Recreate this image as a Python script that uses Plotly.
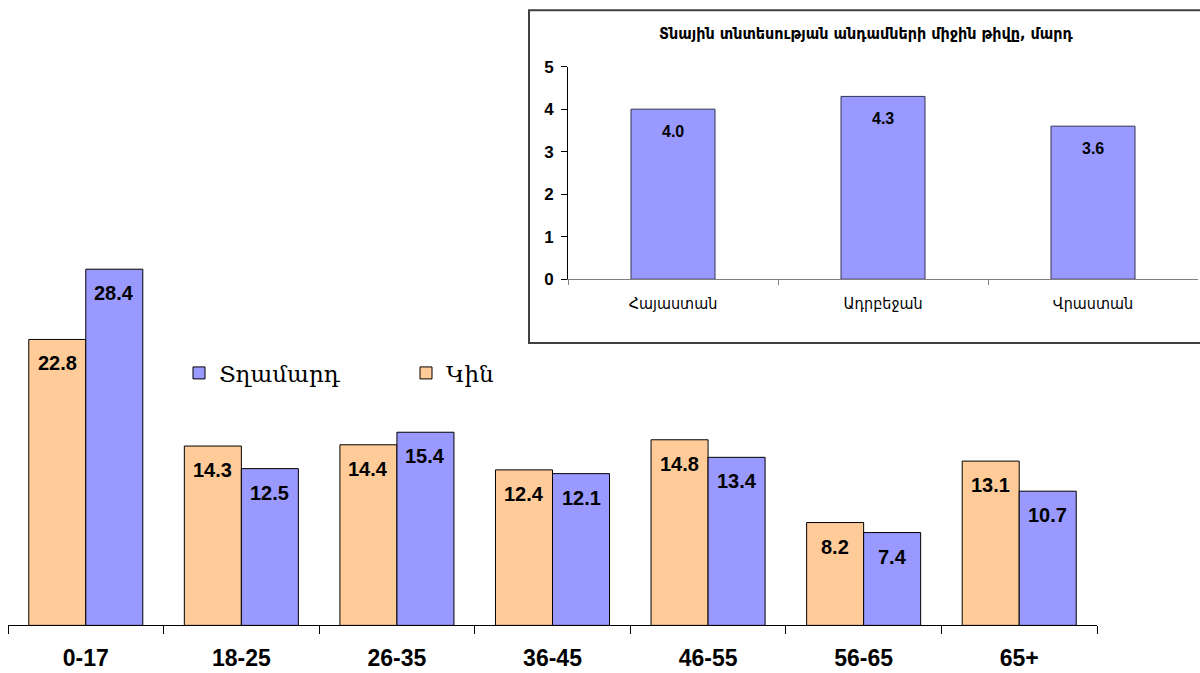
import plotly.graph_objects as go

# Main chart data
age_groups = ["0-17", "18-25", "26-35", "36-45", "46-55", "56-65", "65+"]
women = [22.8, 14.3, 14.4, 12.4, 14.8, 8.2, 13.1]
men = [28.4, 12.5, 15.4, 12.1, 13.4, 7.4, 10.7]
women_name = "Կին"
men_name = "Տղամարդ"

# Inset chart data
countries = ["Հայաստան", "Ադրբեջան", "Վրաստան"]
household_size = [4.0, 4.3, 3.6]
inset_title = "Տնային տնտեսության անդամների միջին թիվը, մարդ"
inset_ticks = [0, 1, 2, 3, 4, 5]

W, H = 1200, 673
ORANGE = "#FFCC99"
BLUE = "#9999FF"

# empirical vertical mapping of the rendered page
V_OFF, V_SCALE = 8.2, 0.974

def px(x):
    return x / W

def py(y):
    yd = (y - V_OFF) / V_SCALE
    return min(1.0, max(0.0, 1 - yd / H))

fig = go.Figure()

fig.add_trace(go.Bar(x=age_groups, y=women, name=women_name,
                     marker=dict(color=ORANGE, line=dict(color="#000000", width=1)),
                     xaxis="x", yaxis="y"))
fig.add_trace(go.Bar(x=age_groups, y=men, name=men_name,
                     marker=dict(color=BLUE, line=dict(color="#000000", width=1)),
                     xaxis="x", yaxis="y"))

fig.add_trace(go.Bar(x=countries, y=household_size, showlegend=False, width=0.4,
                     marker=dict(color=BLUE, line=dict(color="#333355", width=1)),
                     xaxis="x2", yaxis="y2"))

annotations = []
label_font = dict(family="Liberation Sans, Arial, sans-serif", size=20, color="#000000", weight="bold")
for cat, w, m in zip(age_groups, women, men):
    annotations.append(dict(x=cat, y=w, xref="x", yref="y", text=f"{w:.1f}",
                            showarrow=False, xshift=-28.5, yshift=-24, font=label_font))
    annotations.append(dict(x=cat, y=m, xref="x", yref="y", text=f"{m:.1f}",
                            showarrow=False, xshift=28.5, yshift=-24, font=label_font))

inset_label_font = dict(family="Liberation Sans, Arial, sans-serif", size=16, color="#000000", weight="bold")
for c, v in zip(countries, household_size):
    annotations.append(dict(x=c, y=v, xref="x2", yref="y2", text=f"{v:.1f}",
                            showarrow=False, yshift=-22, font=inset_label_font))

annotations.append(dict(x=px(866), y=py(33), xref="paper", yref="paper",
                        xanchor="center", yanchor="middle",
                        text=inset_title, showarrow=False,
                        font=dict(family="DejaVu Sans Condensed, DejaVu Sans, sans-serif",
                                  size=16, color="#000000", weight="bold")))

main_top_obs = 105.6
fig.update_layout(
    width=W, height=H,
    margin=dict(l=0, r=0, t=0, b=0),
    paper_bgcolor="white", plot_bgcolor="rgba(0,0,0,0)",
    barmode="group", bargap=0.267, bargroupgap=0,
    showlegend=True,
    legend=dict(orientation="h", x=px(179), y=py(373), xanchor="left", yanchor="middle",
                traceorder="reversed", entrywidth=182, entrywidthmode="pixels",
                font=dict(family="DejaVu Serif, Liberation Serif, serif", size=23, color="#000000"),
                bgcolor="rgba(0,0,0,0)", itemclick=False),
    xaxis=dict(domain=[px(8), px(1097)], anchor="y", showline=True, linecolor="#000000",
               linewidth=1, ticks="outside", tickson="boundaries", ticklen=8,
               tickcolor="#000000", showgrid=False, ticklabelstandoff=12,
               tickfont=dict(family="Liberation Sans Narrow, Liberation Sans, Arial, sans-serif",
                             size=23, color="#000000", weight="bold")),
    yaxis=dict(domain=[py(626), py(main_top_obs)], anchor="x",
               range=[0, (626 - main_top_obs) / 12.57],
               visible=False, showgrid=False),
    xaxis2=dict(domain=[px(568), px(1198)], anchor="y2", showline=True, linecolor="#808080",
                linewidth=1, ticks="outside", tickson="boundaries", ticklen=5,
                tickcolor="#808080", showgrid=False, ticklabelstandoff=10,
                tickfont=dict(family="DejaVu Sans Condensed, DejaVu Sans, sans-serif",
                              size=16, color="#000000")),
    yaxis2=dict(domain=[py(279), py(66)], anchor="x2", range=[0, 5], tickvals=inset_ticks,
                showline=True, linecolor="#000000", linewidth=1, ticks="outside", ticklen=6,
                tickcolor="#000000", showgrid=False, zeroline=False, ticklabelstandoff=4,
                tickfont=dict(family="Liberation Sans, Arial, sans-serif", size=17,
                              color="#000000", weight="bold")),
    annotations=annotations,
    shapes=[dict(type="rect", xref="paper", yref="paper", x0=px(529), x1=px(1210),
                 y0=py(343), y1=py(7) - 0.002, line=dict(color="#404040", width=2),
                 fillcolor="rgba(0,0,0,0)", layer="below")],
)

fig.write_html("out.html", config={"displayModeBar": False},
               post_script="document.body.style.margin='0';document.body.style.overflow='hidden';")
